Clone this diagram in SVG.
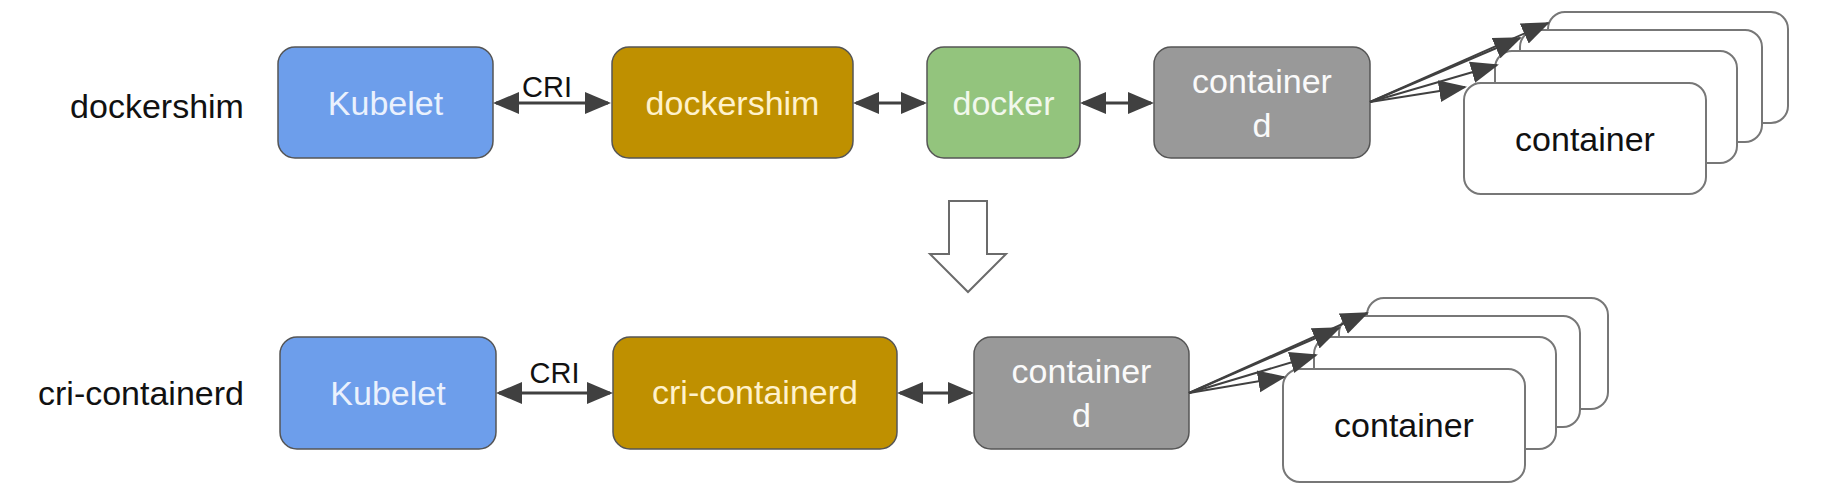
<svg xmlns="http://www.w3.org/2000/svg" width="1822" height="490" viewBox="0 0 1822 490">
<style>
text{font-family:"Liberation Sans",Arial,sans-serif;font-size:34px;text-anchor:middle}
.lbl{fill:#111}
.cri{font-size:29px;fill:#111}
.box{stroke:#555;stroke-width:1.5}
.blue{fill:#6d9eeb}
.gold{fill:#bf9000}
.green{fill:#93c47d}
.grey{fill:#999999}
.ctr{fill:#fff;stroke:#777;stroke-width:2}
.tb{fill:#eaf1fd}
.tg{fill:#fff2cc}
.tgr{fill:#f1f8ec}
.tw{fill:#fafafa}
.tk{fill:#111}
.dbl{stroke:#404040;stroke-width:3;fill:none;marker-start:url(#ah);marker-end:url(#ah)}
.fan{stroke:#404040;stroke-width:2;fill:none;marker-end:url(#fh)}
</style>
<defs>
<marker id="ah" markerUnits="userSpaceOnUse" markerWidth="26" markerHeight="24" refX="23" refY="12" orient="auto-start-reverse">
<path d="M0,1 L26,12 L0,23 z" fill="#404040"/>
</marker>
<marker id="fh" markerUnits="userSpaceOnUse" markerWidth="28" markerHeight="24" refX="26" refY="12" orient="auto">
<path d="M0,1 L28,12 L0,23 z" fill="#404040"/>
</marker>
</defs>
<rect width="1822" height="490" fill="#fff"/>

<g id="label-dockershim"><text class="lbl" x="157" y="118">dockershim</text></g>
<g id="label-cri-containerd"><text class="lbl" x="141" y="405">cri-containerd</text></g>

<g id="kubelet-top"><rect class="box blue" x="278" y="47" width="215" height="111" rx="17"/><text class="tb" x="385.5" y="115">Kubelet</text></g>
<g id="dockershim"><rect class="box gold" x="612" y="47" width="241" height="111" rx="17"/><text class="tg" x="732.5" y="115">dockershim</text></g>
<g id="docker"><rect class="box green" x="927" y="47" width="153" height="111" rx="17"/><text class="tgr" x="1003.5" y="115">docker</text></g>
<g id="containerd-top"><rect class="box grey" x="1154" y="47" width="216" height="111" rx="17"/><text class="tw" x="1262" y="93">container</text><text class="tw" x="1262" y="137">d</text></g>

<g id="containers-top">
<rect class="ctr" x="1548" y="12" width="240" height="111" rx="17"/>
<rect class="ctr" x="1520" y="30" width="242" height="112" rx="17"/>
<rect class="ctr" x="1495" y="51" width="242" height="112" rx="17"/>
<rect class="ctr" x="1464" y="83" width="242" height="111" rx="17"/>
<text class="tk" x="1585" y="151">container</text>
</g>

<g id="transition-arrow"><polygon points="949,201 987,201 987,254 1006,254 968,292 930,254 949,254" fill="#fff" stroke="#6b6b6b" stroke-width="2" stroke-linejoin="miter"/></g>

<g id="kubelet-bottom"><rect class="box blue" x="280" y="337" width="216" height="112" rx="17"/><text class="tb" x="388" y="405">Kubelet</text></g>
<g id="cri-containerd"><rect class="box gold" x="613" y="337" width="284" height="112" rx="17"/><text class="tg" x="755" y="404">cri-containerd</text></g>
<g id="containerd-bottom"><rect class="box grey" x="974" y="337" width="215" height="112" rx="17"/><text class="tw" x="1081.5" y="383">container</text><text class="tw" x="1081.5" y="427">d</text></g>

<g id="containers-bottom">
<rect class="ctr" x="1367" y="298" width="241" height="111" rx="17"/>
<rect class="ctr" x="1339" y="316" width="241" height="111" rx="17"/>
<rect class="ctr" x="1314" y="337" width="242" height="112" rx="17"/>
<rect class="ctr" x="1283" y="369" width="242" height="113" rx="17"/>
<text class="tk" x="1404" y="437">container</text>
</g>

<g id="connectors">
<line class="dbl" x1="496" y1="103" x2="608" y2="103"/>
<text class="cri" x="547" y="97">CRI</text>
<line class="dbl" x1="856" y1="103" x2="924" y2="103"/>
<line class="dbl" x1="1083" y1="103" x2="1151" y2="103"/>
<line class="fan" x1="1370" y1="102" x2="1548" y2="23"/>
<line class="fan" x1="1370" y1="102" x2="1520" y2="38"/>
<line class="fan" x1="1370" y1="102" x2="1497" y2="65"/>
<line class="fan" x1="1370" y1="102" x2="1465" y2="87"/>

<line class="dbl" x1="499" y1="393" x2="610" y2="393"/>
<text class="cri" x="554.5" y="383">CRI</text>
<line class="dbl" x1="900" y1="393" x2="971" y2="393"/>
<line class="fan" x1="1189" y1="393" x2="1367" y2="313"/>
<line class="fan" x1="1189" y1="393" x2="1339" y2="328"/>
<line class="fan" x1="1189" y1="393" x2="1316" y2="355"/>
<line class="fan" x1="1189" y1="393" x2="1284" y2="377"/>
</g>
</svg>
